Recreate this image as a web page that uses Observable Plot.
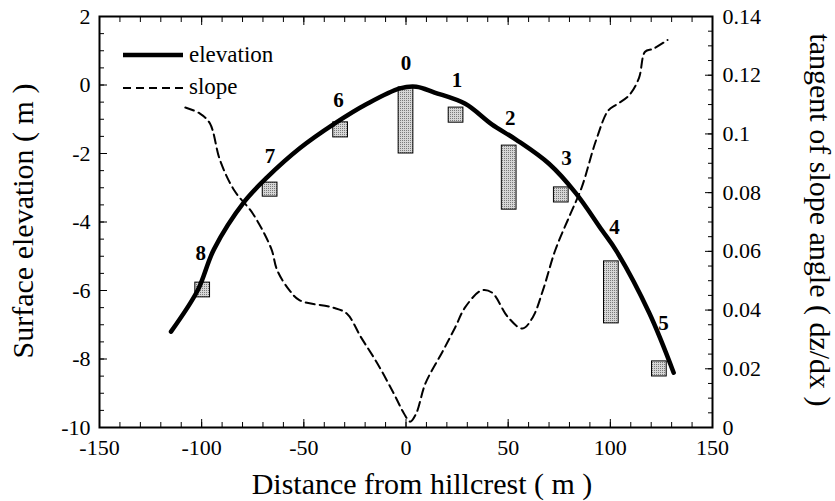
<!DOCTYPE html>
<html>
<head>
<meta charset="utf-8">
<script src="https://cdn.jsdelivr.net/npm/d3@7"></script>
<script src="https://cdn.jsdelivr.net/npm/@observablehq/plot@0.6"></script>
<style>
  body { margin: 0; background: white; }
  #wrap { position: relative; width: 835px; height: 501px; font-family: 'Liberation Serif', 'Times New Roman', serif; }
  #wrap svg text { font-family: 'Liberation Serif', 'Times New Roman', serif; font-variant-numeric: normal; }
  #legend { position: absolute; left: 0; top: 0; }
</style>
</head>
<body>
<div id="wrap"></div>
<script>
// Elevation profile (left axis, m)
const elevX = [-115, -102, -94, -79, -68, -52, -35, -19, -3, 5, 14, 29, 42, 54, 70, 83, 96, 103, 119, 131];
const elevY = [-7.2, -6.0, -4.8, -3.4, -2.7, -1.85, -1.13, -0.55, -0.1, -0.05, -0.22, -0.55, -1.15, -1.6, -2.3, -3.15, -4.25, -4.85, -6.65, -8.4];

// Slope (right axis, tangent dz/dx)
const slopeX = [-108, -101, -96, -91, -84, -75, -66, -63, -57, -52, -36, -29, -22, -14, -6, -1, 2, 5, 9.5, 18, 24, 29, 37, 42, 50, 57, 62, 67, 73, 80, 86, 93, 99, 103, 109, 114, 117, 121, 128];
const slope  = [0.109, 0.107, 0.1036, 0.091, 0.0807, 0.0729, 0.061, 0.0535, 0.0467, 0.0433, 0.0409, 0.0388, 0.0307, 0.0218, 0.0116, 0.0048, 0.002, 0.0048, 0.015, 0.026, 0.034, 0.041, 0.0467, 0.046, 0.0375, 0.0337, 0.0375, 0.0467, 0.0603, 0.072, 0.0818, 0.0978, 0.108, 0.110, 0.113, 0.119, 0.128, 0.129, 0.132];

// Measurement sites (boxes)
const siteNames  = ["0", "1", "2", "3", "4", "5", "6", "7", "8"];
const siteX      = [0, 24.5, 50.5, 76, 100.5, 124, -32, -66.5, -99.5];
const siteTop    = [-0.07, -0.66, -1.77, -2.99, -5.15, -8.07, -1.09, -2.85, -5.77];
const siteBottom = [-2.0, -1.1, -3.64, -3.43, -6.96, -8.51, -1.53, -3.26, -6.2];
const labelX     = [0, 25, 51, 78.5, 102, 126, -33, -66.5, -100.5];
const labelY     = [0.64, 0.13, -0.98, -2.15, -4.16, -6.95, -0.45, -2.09, -4.92];

// Tick values
const xTicks = [-150, -100, -50, 0, 50, 100, 150];
const yTicks = [-10, -8, -6, -4, -2, 0, 2];
const slopeTicks = [0, 0.02, 0.04, 0.06, 0.08, 0.1, 0.12, 0.14];
const slopeTickLabels = ["0", "0.02", "0.04", "0.06", "0.08", "0.1", "0.12", "0.14"];

const yMin = -10, yMax = 2, sMax = 0.14;
const toLeft = s => yMin + (s / sMax) * (yMax - yMin);
const halfW = 3.6;

const elevData = elevX.map((x, i) => ({x, y: elevY[i]}));
const slopeData = slopeX.map((x, i) => ({x, y: toLeft(slope[i])}));
const sites = siteNames.map((n, i) => ({n, x: siteX[i], top: siteTop[i], bot: siteBottom[i], lx: labelX[i], ly: labelY[i]}));

const xMinor = d3.range(-150, 151, 10);
const yMinor = d3.range(-10, 2.001, 0.5);
const sMinor = d3.range(0, 0.1401, 0.005).map(toLeft);
const sMajor = slopeTicks.map(toLeft);

const font = "'Liberation Serif', 'Times New Roman', serif";
const tf = {fontFamily: font, fontVariant: "normal", fontSize: 22};

const chart = Plot.plot({
  width: 835,
  height: 501,
  marginLeft: 99,
  marginRight: 123,
  marginTop: 16,
  marginBottom: 74,
  x: {domain: [-150, 150]},
  y: {domain: [yMin, yMax]},
  style: {fontFamily: font, fontSize: "22px", background: "white", color: "black", overflow: "visible"},
  marks: [
    Plot.rect(sites, {x1: d => d.x - halfW, x2: d => d.x + halfW, y1: "bot", y2: "top", fill: "url(#stipple)", stroke: "black", strokeWidth: 1}),
    Plot.line(slopeData, {x: "x", y: "y", stroke: "black", strokeWidth: 2, strokeDasharray: "9,5", curve: "catmull-rom"}),
    Plot.line(elevData, {x: "x", y: "y", stroke: "black", strokeWidth: 4.5, curve: "catmull-rom"}),
    Plot.text(sites, {x: "lx", y: "ly", text: "n", fontWeight: "bold", fontSize: 21, fontFamily: font}),
    // bottom axis
    Plot.axisX({ticks: xTicks, tickSize: -8, tickPadding: 20, tickFormat: d => String(d), label: null, ...tf}),
    Plot.axisX({ticks: xMinor, tickSize: -5, tickFormat: () => "", label: null}),
    // top axis ticks
    Plot.axisX({anchor: "top", ticks: xTicks, tickSize: -8, tickFormat: () => "", label: null}),
    Plot.axisX({anchor: "top", ticks: xMinor, tickSize: -5, tickFormat: () => "", label: null}),
    // left axis
    Plot.axisY({ticks: yTicks, tickSize: -8, tickPadding: 17, tickFormat: d => String(d), label: null, ...tf}),
    Plot.axisY({ticks: yMinor, tickSize: -5, tickFormat: () => "", label: null}),
    // right axis (slope)
    Plot.axisY({anchor: "right", ticks: sMajor, tickSize: -8, tickPadding: 18, tickFormat: (d, i) => slopeTickLabels[i], label: null, ...tf}),
    Plot.axisY({anchor: "right", ticks: sMinor, tickSize: -5, tickFormat: () => "", label: null}),
    Plot.frame({stroke: "black", strokeWidth: 2}),
    // axis titles
    Plot.text(["Distance from hillcrest ( m )"], {frameAnchor: "bottom", textAnchor: "middle", dx: 16, dy: 66, lineAnchor: "bottom", fontSize: 30, fontFamily: font}),
    Plot.text(["Surface elevation ( m )"], {frameAnchor: "left", textAnchor: "middle", lineAnchor: "bottom", dx: -67, dy: -1, rotate: -90, fontSize: 30, fontFamily: font}),
    Plot.text(["tangent of slope angle ( dz/dx )"], {frameAnchor: "right", textAnchor: "middle", lineAnchor: "bottom", dx: 97, dy: -2, rotate: 90, fontSize: 30, fontFamily: font})
  ]
});

// stipple pattern for the site boxes
const ns = "http://www.w3.org/2000/svg";
const defs = document.createElementNS(ns, "defs");
defs.innerHTML = `
  <pattern id="stipple" width="2" height="2" patternUnits="userSpaceOnUse">
    <rect width="2" height="2" fill="#d6d6d6"/>
    <rect x="0" y="0" width="1" height="1" fill="#7a7a7a"/>
  </pattern>`;
chart.insertBefore(defs, chart.firstChild);

const wrap = document.getElementById("wrap");
wrap.appendChild(chart);

// Legend overlay
const leg = document.createElementNS(ns, "svg");
leg.setAttribute("id", "legend");
leg.setAttribute("width", "400");
leg.setAttribute("height", "120");
leg.innerHTML = `
  <line x1="123" y1="55" x2="183" y2="55" stroke="black" stroke-width="4.5"/>
  <text x="189" y="62" font-family="${font}" font-size="23">elevation</text>
  <line x1="123" y1="88" x2="183" y2="88" stroke="black" stroke-width="2" stroke-dasharray="8,5"/>
  <text x="189" y="94" font-family="${font}" font-size="23">slope</text>
`;
wrap.appendChild(leg);
</script>
</body>
</html>
